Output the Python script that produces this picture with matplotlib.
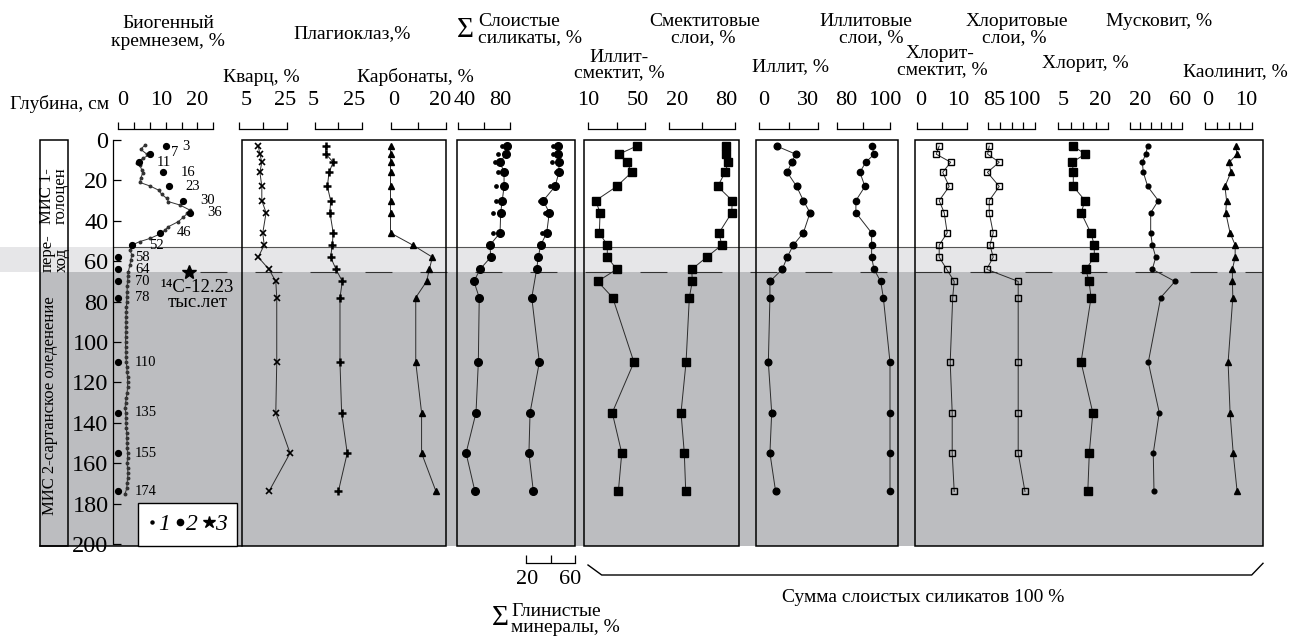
import matplotlib
matplotlib.use('Agg')
import matplotlib.pyplot as plt
from matplotlib.lines import Line2D
from matplotlib.patches import Rectangle
import numpy as np

plt.rcParams['font.family'] = ['Liberation Serif', 'DejaVu Serif']
plt.rcParams['lines.scale_dashes'] = False

W, H = 1302, 637
Y0, PXCM = 140.0, 2.02          # pixel row of depth 0, pixels per cm

# ---- data (depth in cm) ----
depth = [3, 7, 11, 16, 23, 30, 36, 46, 52, 58, 64, 70, 78, 110, 135, 155, 174]

silica = [12.0, 8.0, 5.4, 11.4, 12.8, 16.4, 18.1, 10.5, 3.5, 0, 0, 0, 0, 0, 0, 0, 0]
silica_fine_depth = [2.5, 4.6, 6.9, 7.4, 9.1, 11.2, 12.4, 14.9, 16.5, 19, 21, 22.8,
                     24.8, 26.9, 28.9, 30.5, 32.2, 34.7, 36.3, 38.3, 40.4, 42.9,
                     44.6, 46.5, 48.7, 50.3, 52, 54.5, 56.9, 59.4, 61.9, 65.2,
                     67.5, 70, 72.5, 75, 77.5, 80, 82.5, 85, 87.5, 90, 92.5, 95,
                     97.5, 100, 102.5, 105, 107.5, 110, 112.5, 115, 117.5, 120,
                     122.5, 125, 127.5, 130, 132.5, 135, 137.5, 140, 142.5, 145,
                     147.5, 150, 152.5, 155, 157.5, 160, 162.5, 165, 167.5, 170,
                     172.5, 175]
silica_fine = [6.8, 5.7, 7.2, 7.9, 6.2, 4.7, 5.5, 6.0, 6.2, 5.7, 5.5, 8.1,
               10.2, 11.0, 12.3, 12.7, 15.6, 18.1, 17.5, 16.4, 15.2, 12.7,
               11.8, 10.6, 8.1, 5.5, 3.5, 3.0, 3.5, 3.2, 3.0, 2.6,
               2.5, 2.4, 2.3, 2.3, 2.2, 2.2, 2.1, 2.1, 2.0, 2.0, 2.0, 2.0,
               1.9, 1.9, 1.9, 2.0, 2.0, 2.1, 2.2, 2.3, 2.4, 2.4,
               2.4, 2.3, 2.1, 1.9, 1.8, 1.9, 2.0, 2.0, 2.1, 2.2,
               2.2, 2.3, 2.3, 2.4, 2.4, 2.3, 2.4, 2.5, 2.4, 2.3,
               2.2, 1.8]
c14_depth, c14_x = 65.5, 18.0

quartz = [13.0, 13.7, 14.5, 13.7, 14.5, 14.5, 16.3, 14.9, 15.5, 13.0, 17.5, 20.4, 20.8, 20.8, 20.4, 26.4, 17.5]
plag = [9.6, 9.7, 12.8, 11.0, 10.3, 11.7, 11.4, 12.8, 12.4, 11.7, 14.0, 16.7, 15.7, 15.7, 16.4, 18.8, 15.0]
carb = [0, 0, 0, 0, 0, 0, 0, 0, 8.0, 15.1, 14.0, 13.0, 9.1, 9.1, 11.2, 11.2, 16.4]

sum_sil = [77.4, 76.9, 72.3, 75.4, 75.4, 74.0, 72.8, 72.3, 64.5, 65.1, 56.8, 52.1, 56.2, 55.5, 53.7, 46.0, 52.9]
sum_sil_b = [73.6, 70.9, 68.4, 70.9, 69.1, 68.9, 67.0, 67.0]
sum_clay = [46.4, 46.4, 46.9, 46.9, 43.7, 34.1, 39.0, 36.9, 32.0, 30.0, 28.7, np.nan, 24.7, 30.9, 23.3, 22.4, 26.0]
sum_clay_b = [42.3, 41.8, 41.0, 44.5, 39.6, 31.4, 35.5, 32.8]

ill_sm = [44.1, 31.7, 37.1, 40.6, 30.0, 15.2, 18.3, 17.8, 23.4, 23.4, 30.0, 16.6, 27.2, 42.2, 26.9, 33.6, 31.2]
smect_l = [71.8, 71.8, 73.9, 70.9, 64.2, 77.5, 77.0, 65.4, 67.9, 54.2, 40.5, 41.0, 38.3, 35.3, 30.7, 33.7, 35.0]
illite = [8.8, 18.5, 16.5, 14.2, 19.0, 22.4, 25.8, 22.4, 17.3, 14.2, 11.7, 5.4, 5.4, 4.6, 6.3, 5.4, 8.3]
illite_l = [93.1, 94.1, 90.9, 88.7, 90.6, 87.2, 87.2, 93.1, 93.1, 93.1, 94.0, 96.5, 97.5, 100, 100, 100, 100]
chl_sm = [4.5, 3.9, 6.8, 5.2, 6.5, 4.5, 5.5, 6.1, 4.5, 4.5, 6.0, 7.5, 7.2, 6.7, 7.1, 7.1, 7.5]
chl_l = [85.4, 84.7, 89.7, 84.6, 89.7, 85.4, 85.4, 87.1, 85.7, 87.1, 84.3, 97.8, 97.8, 97.8, 97.8, 97.8, 100.7]
chlorite = [11.0, 15.7, 10.6, 11.0, 11.0, 15.7, 14.1, 18.0, 19.4, 19.4, 16.0, 17.3, 18.1, 14.1, 18.8, 17.4, 16.8]
muscovite = [27.1, 25.2, 21.9, 22.9, 27.1, 37.4, 30.0, 30.0, 31.6, 34.9, 31.6, 53.5, 39.7, 27.7, 38.3, 32.5, 33.2]
kaolinite = [7.8, 8.2, 6.2, 6.6, 5.1, 5.5, 5.3, 6.4, 7.7, 7.7, 7.0, 7.0, 7.1, 5.9, 6.4, 7.2, 8.2]

zone_top, zone_glacial, zone_bottom = 52.8, 65.3, 201.0
depth_ticks = [0, 20, 40, 60, 80, 100, 120, 140, 160, 180, 200]


def py(d):
    return Y0 + PXCM * d


def dp(p):
    return (p - Y0) / PXCM


fig = plt.figure(figsize=(W / 100, H / 100), dpi=100)

# ---- background: zones, boxes, headers ----
bg = fig.add_axes([0, 0, 1, 1])
bg.set_xlim(0, W)
bg.set_ylim(H, 0)
bg.set_axis_off()

bg.add_patch(Rectangle((0, py(zone_top)), 1263, py(zone_glacial) - py(zone_top),
                       fc='#e6e6e8', ec='none', zorder=0))
bg.add_patch(Rectangle((40, py(zone_glacial)), 1223, py(zone_bottom) - py(zone_glacial),
                       fc='#bcbdc0', ec='none', zorder=0))
bg.plot([113, 1262], [py(zone_top)] * 2, color='#555555', lw=0.8, zorder=1)
bg.plot([200, 1262], [py(65.2)] * 2, color='#333333', lw=0.8,
        dashes=(19.4, 20.2), zorder=1)

panels = [(40, 67.7), (241.7, 446), (456.7, 575), (583.7, 739.3), (756, 897.7), (915, 1263)]
for x0, x1 in panels:
    bg.add_patch(Rectangle((x0, py(0)), x1 - x0, py(zone_bottom) - py(0),
                           fc='none', ec='k', lw=1.1, zorder=2))
bg.plot([40, 241.7], [py(zone_bottom)] * 2, color='k', lw=1.1, zorder=2)

# bracket under the clay panels
bg.plot([588, 601.7, 1251.7, 1263], [565, 575, 575, 563.3], color='k', lw=1.0)

fs = 14
heads = [
    ("Биогенный", 168, 23, 'center'), ("кремнезем, %", 167.5, 41, 'center'),
    ("Плагиоклаз,%", 352, 34, 'center'),
    ("Кварц, %", 261, 77, 'center'), ("Карбонаты, %", 415, 77, 'center'),
    ("Глубина, см", 60, 104, 'center'),
    ("Слоистые", 478, 22, 'left'), ("силикаты, %", 478, 38, 'left'),
    ("Смектитовые", 705, 22, 'center'), ("слои, %", 703, 38, 'center'),
    ("Иллит-", 619, 57, 'center'), ("смектит, %", 619, 73, 'center'),
    ("Иллит, %", 791, 67, 'center'),
    ("Иллитовые", 866, 22, 'center'), ("слои, %", 871, 38, 'center'),
    ("Хлорит-", 940, 53, 'center'), ("смектит, %", 942, 70, 'center'),
    ("Хлоритовые", 1017, 22, 'center'), ("слои, %", 1014, 38, 'center'),
    ("Мусковит, %", 1159, 22, 'center'),
    ("Хлорит, %", 1085, 63, 'center'), ("Каолинит, %", 1235, 72, 'center'),
    ("Глинистые", 511, 611, 'left'), ("минералы, %", 511, 627, 'left'),
    ("Сумма слоистых силикатов 100 %", 923, 597, 'center'),
]
for s, x, y, ha in heads:
    bg.text(x, y, s, fontsize=fs, ha=ha, va='center')
bg.text(465, 30, "Σ", fontsize=21, ha='center', va='center')
bg.text(500, 618, "Σ", fontsize=21, ha='center', va='center')

# stratigraphy column
bg.text(54, 196, "МИС 1-\nголоцен", fontsize=12, rotation=90, ha='center',
        va='center', linespacing=0.85, multialignment='left')
bg.text(54.5, 253, "пере-\nход", fontsize=12, rotation=90, ha='center',
        va='center', linespacing=0.85, multialignment='left')
bg.text(50, 406, "МИС 2-сартанское оледенение", fontsize=12, rotation=90,
        ha='center', va='center')

bg.text(197.5, 295, "¹⁴C-12.23\nтыс.лет", fontsize=13.5, ha='center',
        va='center', linespacing=0.9, multialignment='center')

# ---- depth axis ----
dax = fig.add_axes([112.7 / W, (H - py(200)) / H, 0.002, (py(200) - py(0)) / H])
dax.set_ylim(200, 0)
dax.patch.set_alpha(0)
for s in ['top', 'right', 'bottom']:
    dax.spines[s].set_visible(False)
dax.spines['left'].set_linewidth(0.9)
dax.set_xticks([])
dax.set_yticks(depth_ticks)
dax.tick_params(axis='y', direction='in', length=5.8, width=0.9, labelsize=17.5, pad=3)


# ---- tracks ----
def track(v0, p0, v1, p1):
    ax = fig.add_axes([0, 0, 1, 1])
    k = (v1 - v0) / (p1 - p0)
    ax.set_xlim(v0 - p0 * k, v0 + (W - p0) * k)
    ax.set_ylim(dp(H), dp(0))
    ax.set_axis_off()
    ax.patch.set_alpha(0)
    return ax


def scale_bar(ax, ticks, labels, shifts, top=True):
    # shifts: pixel shift of each label from its value, as set in the original
    if top:
        yb, yt, yl = dp(129), dp(122), dp(100)
    else:
        yb, yt, yl = dp(562.7), dp(555), dp(580)
    ax.plot([ticks[0], ticks[-1]], [yb, yb], color='k', lw=0.9, clip_on=False)
    ax.vlines(ticks, yt, yb, color='k', lw=0.9, clip_on=False)
    for v, sh in zip(labels, shifts):
        ax.annotate(str(v), (v, yl), xytext=(sh, 0), textcoords='offset pixels',
                    ha='center', va='center', fontsize=16)


def series(ax, vals, marker, ms, dep=depth, mfc='k', mew=1.0, lw=0.7, line=True):
    d = np.array(dep, float)
    v = np.array(vals, float)
    m = ~np.isnan(v)
    ax.plot(v[m], d[m], color='#2b2b2b', lw=lw if line else 0, marker=marker,
            ms=ms, mfc=mfc, mec='k', mew=mew, clip_on=False)


ax = track(0, 118, 24, 213.3)
scale_bar(ax, [0, 4, 8, 12, 16, 20, 24], [0, 10, 20], [5, 4, 0])
ax.plot(silica_fine, silica_fine_depth, color='#333333', lw=0.7, marker='o', ms=1.8)
series(ax, silica, 'o', 4.2, line=False)
for v, d in zip(silica, depth):
    dx = 21 if d == 7 else 17
    ax.annotate(str(d), (v, d), xytext=(dx, 2 if d == 7 else 0),
                textcoords='offset pixels', ha='left', va='center', fontsize=10.5)
ax.plot([c14_x], [c14_depth], ls='none', marker='*', ms=10, color='k')

ax = track(5, 239.3, 25, 286.7)
scale_bar(ax, [5, 15, 25], [5, 25], [7, -2])
series(ax, quartz, 'x', 4.5, mew=1.2)

ax = track(5, 315, 25, 361.7)
scale_bar(ax, [5, 15, 25], [5, 25], [-2, -8])
series(ax, plag, '+', 6, mew=1.8)

ax = track(0, 390.5, 20, 446)
scale_bar(ax, [0, 10, 20], [0, 20], [3, -6])
series(ax, carb, '^', 4.8)

ax = track(40, 458.3, 80, 510)
scale_bar(ax, [40, 60, 80], [40, 80], [6, -10])
series(ax, sum_sil, 'o', 5.5)
series(ax, sum_sil_b, 'o', 2.4, dep=depth[:8], line=False)

ax = track(20, 526, 60, 575)
scale_bar(ax, [20, 40, 60], [20, 60], [1, -5], top=False)
series(ax, sum_clay, 'o', 5.5)
series(ax, sum_clay_b, 'o', 2.4, dep=depth[:8], line=False)

ax = track(10, 588.3, 50, 645)
scale_bar(ax, [10, 30, 50], [10, 50], [0, -7])
series(ax, ill_sm, 's', 5.5)

ax = track(20, 669.3, 80, 735)
scale_bar(ax, [20, 50, 80], [20, 80], [8, -9])
series(ax, smect_l, 's', 5.5)

ax = track(0, 759.3, 30, 818.3)
scale_bar(ax, [0, 15, 30], [0, 30], [4, -10])
series(ax, illite, 'o', 4.8)

ax = track(80, 836.7, 100, 890)
scale_bar(ax, [80, 90, 100], [80, 100], [10, -5])
series(ax, illite_l, 'o', 4.5)

ax = track(0, 916.7, 10, 966.7)
scale_bar(ax, [0, 5, 10], [0, 10], [4, -8])
series(ax, chl_sm, 's', 4.5, mfc='none')

ax = track(85, 988.3, 105, 1035)
scale_bar(ax, [85, 90, 95, 100, 105], [85, 100], [6, 0])
series(ax, chl_l, 's', 4.5, mfc='none')

ax = track(5, 1058.3, 25, 1108.3)
scale_bar(ax, [5, 10, 15, 20, 25], [5, 20], [5, 4])
series(ax, chlorite, 's', 5.5)

ax = track(10, 1130, 60, 1181.7)
scale_bar(ax, [10, 20, 30, 40, 50, 60], [20, 60], [0, -2])
series(ax, muscovite, 'o', 3.4)

ax = track(0, 1205, 12, 1252)
scale_bar(ax, [0, 3, 6, 9, 12], [0, 10], [3, 2])
series(ax, kaolinite, '^', 4.8)

# legend of the silica symbols
h1 = Line2D([], [], ls='none', marker='o', ms=2.2, color='k')
h2 = Line2D([], [], ls='none', marker='o', ms=4.5, color='k')
h3 = Line2D([], [], ls='none', marker='*', ms=9, color='k')
leg = fig.legend([h1, h2, h3], ['1', '2', '3'], loc='center',
                 bbox_to_anchor=(136.7 / W, 1 - 546 / H, 101.6 / W, 43.3 / H),
                 ncol=3, prop=dict(style='italic', size=17), handlelength=0.3,
                 handletextpad=0.1, columnspacing=0.3, borderpad=0.45,
                 frameon=True, fancybox=False, edgecolor='k', framealpha=1)
leg.get_frame().set_linewidth(1.0)

fig.savefig('out.png', dpi=100)
